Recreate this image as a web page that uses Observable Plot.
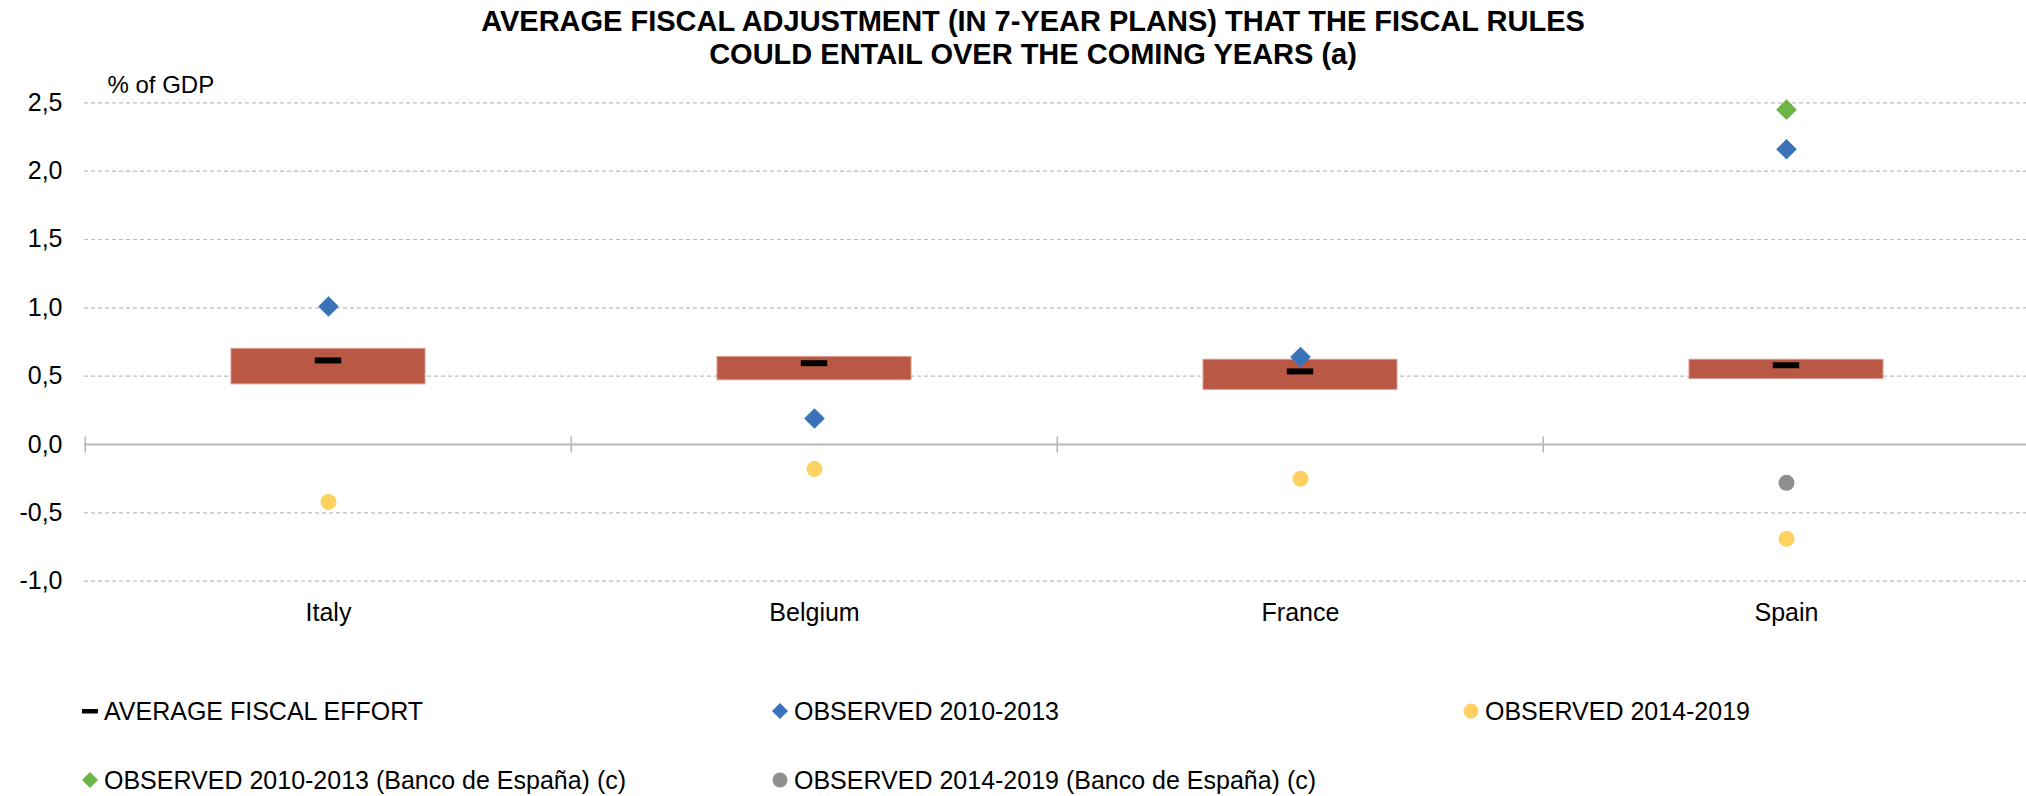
<!DOCTYPE html>
<html>
<head>
<meta charset="utf-8">
<script src="https://cdn.jsdelivr.net/npm/d3@7"></script>
<script src="https://cdn.jsdelivr.net/npm/@observablehq/plot@0.6"></script>
<style>
html,body{margin:0;padding:0;background:#fff;overflow:hidden;width:2026px;height:796px;}
body{font-family:"Liberation Sans",Arial,Helvetica,sans-serif;position:relative;}
#title{position:absolute;left:40px;top:5px;width:1986px;text-align:center;font-weight:bold;font-size:29px;line-height:33.3px;color:#000;}
#chart{position:absolute;left:0;top:70px;}
#legend{position:absolute;left:0;top:670px;width:2026px;height:126px;}
.item{position:absolute;font-size:25px;line-height:30px;white-space:nowrap;color:#000;display:flex;align-items:center;}
.item svg{margin-right:6px;flex:none;}
</style>
</head>
<body>
<div id="title"></div>
<div id="chart"></div>
<div id="legend"></div>
<script>
// ---- data ----
const titleLines = ["AVERAGE FISCAL ADJUSTMENT (IN 7-YEAR PLANS) THAT THE FISCAL RULES", "COULD ENTAIL OVER THE COMING YEARS (a)"];
const unitLabel = "% of GDP";
const countries = ["Italy", "Belgium", "France", "Spain"];
const rangeLow  = [0.44, 0.47, 0.40, 0.48];
const rangeHigh = [0.70, 0.64, 0.62, 0.62];
const avgEffort = [0.615, 0.595, 0.535, 0.58];
const obs2010_2013 = [1.01, 0.19, 0.64, 2.16];
const obs2014_2019 = [-0.42, -0.18, -0.25, -0.69];
const bdeCountries = ["Spain"];
const bde2010_2013 = [2.45];
const bde2014_2019 = [-0.28];
const yTicks = [-1, -0.5, 0, 0.5, 1, 1.5, 2, 2.5];
const seriesNames = ["AVERAGE FISCAL EFFORT", "OBSERVED 2010-2013", "OBSERVED 2014-2019",
  "OBSERVED 2010-2013 (Banco de España) (c)", "OBSERVED 2014-2019 (Banco de España) (c)"];
const seriesShapes = ["dash", "diamond", "circle", "diamond", "circle"];
const seriesColors = ["#000000", "#3A73BA", "#FFD160", "#6CB545", "#8F8F8F"];
const rangeColor = "#B95845";

// ---- title ----
document.getElementById("title").innerHTML = titleLines.join("<br>");

// ---- chart ----
const rows = countries.map((c, i) => ({country: c, low: rangeLow[i], high: rangeHigh[i], avg: avgEffort[i], o1: obs2010_2013[i], o2: obs2014_2019[i]}));
const bdeRows = bdeCountries.map((c, i) => ({country: c, o1: bde2010_2013[i], o2: bde2014_2019[i]}));

const W = 2026, H = 600, ML = 84;
const xRange = [84, 2030];
const step = (xRange[1] - xRange[0]) / countries.length;
const fmt = d => d.toFixed(1).replace(".", ",");
const vtick = {draw(ctx) { ctx.moveTo(0, -8); ctx.lineTo(0, 8); }};

const chart = Plot.plot({
  width: W, height: H,
  marginLeft: ML, marginRight: 0, marginTop: 32.3, marginBottom: 89.3,
  style: {fontFamily: '"Liberation Sans", Arial, Helvetica, sans-serif', fontSize: "25px", color: "#000", background: "transparent"},
  x: {type: "band", domain: countries, range: xRange, paddingInner: 0.6, paddingOuter: 0.3, align: 0.5, label: null},
  y: {domain: [-1, 2.5], label: null},
  marks: [
    Plot.gridY(yTicks, {stroke: "#bcbcbc", strokeOpacity: 1, strokeDasharray: "4,3", strokeWidth: 1.2}),
    Plot.axisY(yTicks, {tickSize: 0, tickPadding: 22, tickFormat: fmt, label: null}),
    Plot.axisX({tickSize: 0, tickPadding: 22, label: null}),
    Plot.ruleY([0], {stroke: "#b8b8b8", strokeWidth: 2}),
    Plot.dot(countries, {x: d => d, y: () => 0, dx: -step / 2, symbol: vtick, fill: "none", stroke: "#b8b8b8", strokeWidth: 1.5}),
    Plot.barY(rows, {x: "country", y1: "low", y2: "high", fill: rangeColor, stroke: "#d9998c", strokeWidth: 1}),
    Plot.tickY(rows, {x: "country", y: "avg", stroke: seriesColors[0], strokeWidth: 6, insetLeft: 83.8, insetRight: 83.8}),
    Plot.dot(rows, {x: "country", y: "o1", symbol: "diamond2", r: 9.3, fill: seriesColors[1], stroke: "none"}),
    Plot.dot(rows, {x: "country", y: "o2", symbol: "circle", r: 8, fill: seriesColors[2], stroke: "none"}),
    Plot.dot(bdeRows, {x: "country", y: "o1", symbol: "diamond2", r: 9.3, fill: seriesColors[3], stroke: "none"}),
    Plot.dot(bdeRows, {x: "country", y: "o2", symbol: "circle", r: 8, fill: seriesColors[4], stroke: "none"}),
    Plot.text([unitLabel], {text: d => d, frameAnchor: "top-left", dx: 23, dy: -10, textAnchor: "start", lineAnchor: "bottom", fontSize: 24})
  ]
});
document.getElementById("chart").appendChild(chart);

// ---- legend ----
const legendCols = [82, 772, 1463];
const legendRows = [26.3, 95.3];
const legend = document.getElementById("legend");
function markerSvg(shape, color) {
  if (shape === "dash") return `<svg width="16" height="16"><rect x="0" y="6" width="16" height="4.5" fill="${color}"/></svg>`;
  if (shape === "diamond") return `<svg width="16" height="16"><polygon points="8,0 16,8 8,16 0,8" fill="${color}"/></svg>`;
  return `<svg width="16" height="16"><circle cx="8" cy="8" r="7.5" fill="${color}"/></svg>`;
}
seriesNames.forEach((name, i) => {
  const div = document.createElement("div");
  div.className = "item";
  div.style.left = legendCols[i % 3] + "px";
  div.style.top = legendRows[Math.floor(i / 3)] + "px";
  div.innerHTML = markerSvg(seriesShapes[i], seriesColors[i]) + `<span>${name}</span>`;
  legend.appendChild(div);
});
</script>
</body>
</html>
